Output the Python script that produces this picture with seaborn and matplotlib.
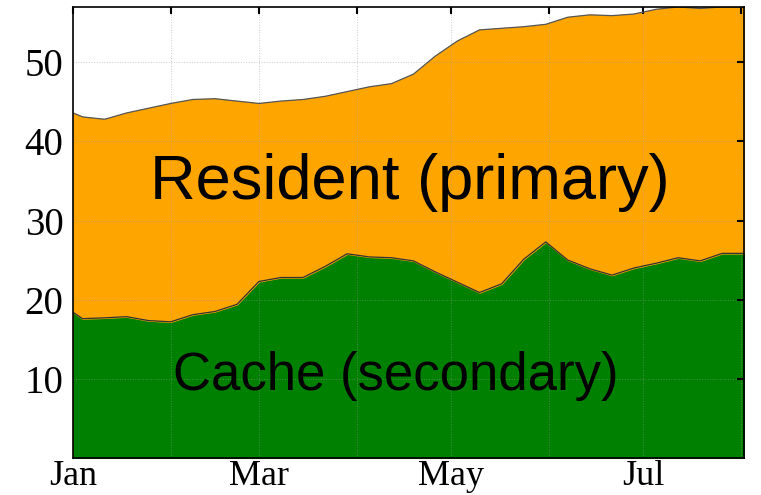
import pandas as pd
import numpy as np
import matplotlib
matplotlib.use('Agg')
import matplotlib.pyplot as plt
import matplotlib.dates as mdates
import seaborn as sns

# Weekly samples (first point is the start of the year)
dates = pd.to_datetime(['2013-01-01']).append(pd.date_range('2013-01-04', periods=31, freq='7D'))

# Stacked total (cache + resident)
total = [43.6, 43.1, 42.8, 43.6, 44.2, 44.8, 45.3, 45.4, 45.1, 44.8, 45.1,
         45.3, 45.7, 46.3, 46.9, 47.3, 48.5, 50.8, 52.7, 54.1, 54.3, 54.5,
         54.8, 55.7, 56.0, 55.9, 56.1, 56.7, 57.0, 56.8, 57.0, 57.0]

# Cache (secondary) - bottom layer
cache = [18.4, 17.6, 17.7, 17.85, 17.35, 17.2, 18.1, 18.5, 19.4, 22.3, 22.8,
         22.8, 24.2, 25.8, 25.4, 25.3, 24.9, 23.5, 22.2, 20.9, 22.0, 25.1,
         27.3, 25.0, 23.9, 23.1, 24.0, 24.6, 25.3, 24.9, 25.85, 25.85]

resident = [t - c for t, c in zip(total, cache)]

df = pd.DataFrame({'date': dates, 'cache': cache, 'resident': resident})
df['total'] = df.cache + df.resident

sns.set_style('white')
plt.rcParams['font.family'] = ['Liberation Serif', 'DejaVu Serif']

fig = plt.figure(figsize=(7.61, 4.95), dpi=100)
ax = fig.add_axes([0.096, 0.075, 0.882, 0.911])

# stacked areas
ax.fill_between(df.date, 0, df.cache, color='green', zorder=2)
ax.fill_between(df.date, df.cache, df.total, color='orange', zorder=2)
sns.lineplot(data=df, x='date', y='cache', color='#333333', linewidth=0.9, ax=ax, zorder=3)
sns.lineplot(data=df, x='date', y='total', color='#555555', linewidth=0.9, ax=ax, zorder=3)

ax.set_xlim(pd.Timestamp('2013-01-01'), df.date.iloc[-1])
ax.set_ylim(0, 57)
ax.set_yticks([10, 20, 30, 40, 50])
ax.xaxis.set_major_locator(mdates.MonthLocator())
ax.xaxis.set_major_formatter(mdates.DateFormatter('%b'))
fig.canvas.draw()
ax.set_xticklabels([t.get_text() if i % 2 == 0 else '' for i, t in enumerate(ax.get_xticklabels())])

ax.set_xlabel('')
ax.set_ylabel('')
ax.grid(True, linestyle=':', color='#999999', alpha=0.5, linewidth=0.7, zorder=1)
ax.set_axisbelow(False)
ax.tick_params(direction='in', top=True, right=True, length=5, width=1.5,
               labelsize=28, colors='black')
ax.tick_params(axis='y', pad=7)
ax.tick_params(axis='x', pad=1.5, labelsize=26)
for s in ax.spines.values():
    s.set_color('black')
    s.set_linewidth(1.2)
    s.set_zorder(5)

ax.text(0.502, 0.573, 'Resident (primary)', transform=ax.transAxes, ha='center', va='baseline',
        fontsize=45.5, family='Liberation Sans', color='black', zorder=6)
ax.text(0.481, 0.151, 'Cache (secondary)', transform=ax.transAxes, ha='center', va='baseline',
        fontsize=38, family='Liberation Sans', color='black', zorder=6)

plt.savefig('out.png', dpi=100)
